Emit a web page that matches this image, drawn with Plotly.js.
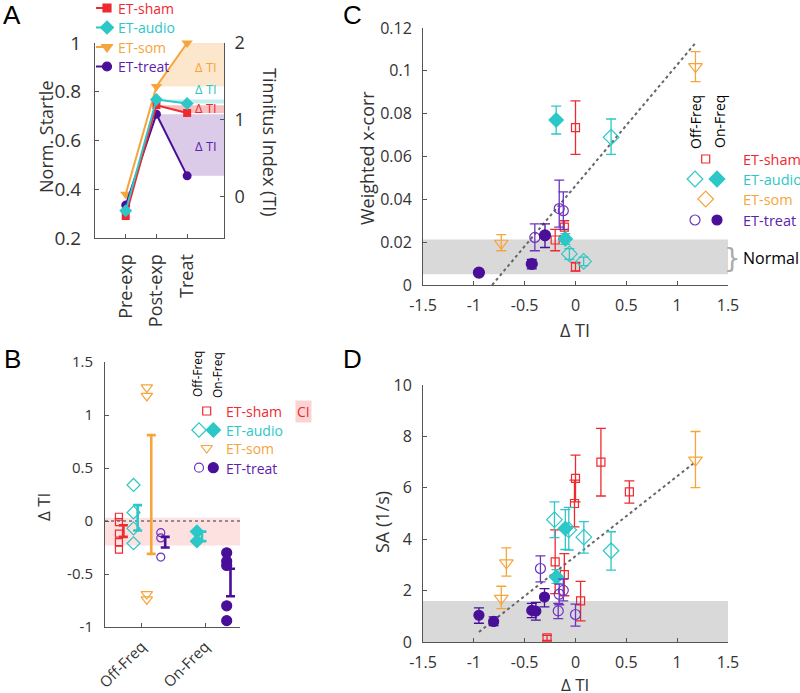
<!DOCTYPE html>
<html><head><meta charset="utf-8">
<script src="https://cdn.plot.ly/plotly-3.0.1.min.js"></script>
<style>html,body{margin:0;padding:0;background:#fff}#chart{width:800px;height:693px}</style>
</head><body><div id="chart"></div>
<script>
// ===== Panel A : normalised startle per stage =====
const stages = ['Pre-exp', 'Post-exp', 'Treat'];
const shamA  = [0.29, 0.745, 0.713];
const audioA = [0.312, 0.768, 0.752];
const somA   = [0.38, 0.822, 1.0];
const treatA = [0.335, 0.708, 0.455];
const tiTicks = [0, 1, 2];

// ===== Panel B : delta TI per animal =====
const groupsB = ['Off-Freq', 'On-Freq'];
const shamB     = [0.04, -0.01, -0.12, -0.2, -0.27];
const audioOffB = [0.34, 0.08, -0.07, -0.21];
const somB      = [1.26, 1.18, -0.69, -0.74];
const treatOffB = [-0.11, -0.16, -0.34];
const audioOnB  = [-0.1, -0.19];
const treatOnB  = [-0.3, -0.38, -0.42, -0.8, -0.94];
// error ranges [low, high]
const shamBarB     = [-0.15, -0.04];
const audioOffBarB = [-0.09, 0.15];
const somBarB      = [-0.31, 0.81];
const treatOffBarB = [-0.25, -0.15];
const audioOnBarB  = [-0.19, -0.1];
const treatOnBarB  = [-0.71, -0.45];
const ciB = [-0.23, 0.03];
const yTicksB = [-1, -0.5, 0, 0.5, 1, 1.5];
const yTickTextB = ['-1', '-0.5', '0', '0.5', '1', '1.5'];

// ===== Panel C : weighted x-corr vs delta TI =====
const shamCx  = [0.0, -0.2, -0.11, 0.0];
const shamCy  = [0.0735, 0.021, 0.027, 0.0085];
const shamChi = [0.086, 0.026, 0.030, 0.0105];
const shamClo = [0.061, 0.016, 0.023, 0.0065];
const audioOffCx  = [0.35, -0.06, 0.08];
const audioOffCy  = [0.069, 0.0145, 0.011];
const audioOffChi = [0.0775, 0.017, 0.013];
const audioOffClo = [0.061, 0.012, 0.009];
const audioOnCx  = [-0.19, -0.1];
const audioOnCy  = [0.077, 0.0215];
const audioOnChi = [0.0835, 0.024];
const audioOnClo = [0.0705, 0.019];
const somCx  = [1.18, -0.73];
const somCy  = [0.102, 0.0195];
const somChi = [0.109, 0.0235];
const somClo = [0.095, 0.016];
const treatOffCx  = [-0.4, -0.16, -0.12];
const treatOffCy  = [0.0222, 0.0357, 0.0347];
const treatOffChi = [0.0285, 0.049, 0.0435];
const treatOffClo = [0.016, 0.027, 0.026];
const treatOnCx  = [-0.95, -0.43, -0.3];
const treatOnCy  = [0.0058, 0.0098, 0.0232];
const treatOnChi = [0.0068, 0.012, 0.0285];
const treatOnClo = [0.0048, 0.0075, 0.0175];
const fitCx = [-0.82, 1.18];
const fitCy = [0.0, 0.113];
const normalC = [0.005, 0.0213];

// ===== Panel D : SA vs delta TI =====
const shamDx  = [0.0, -0.01, 0.25, 0.53, -0.2, -0.11, 0.05, -0.28];
const shamDy  = [6.37, 5.39, 7.0, 5.84, 3.12, 2.62, 1.6, 0.16];
const shamDhi = [7.27, 6.3, 8.31, 6.27, 4.36, 3.44, 2.36, 0.26];
const shamDlo = [5.45, 4.48, 5.68, 5.4, 1.88, 1.8, 0.82, 0.06];
const audioOffDx  = [-0.207, -0.066, 0.082, 0.35];
const audioOffDy  = [4.76, 4.36, 4.08, 3.55];
const audioOffDhi = [5.45, 5.24, 4.68, 4.29];
const audioOffDlo = [4.06, 3.58, 3.46, 2.8];
const audioOnDx  = [-0.1, -0.187];
const audioOnDy  = [4.42, 2.53];
const audioOnDhi = [5.15, 2.82];
const audioOnDlo = [3.6, 2.28];
const somDx  = [1.18, -0.68, -0.73];
const somDy  = [7.08, 3.08, 1.7];
const somDhi = [8.19, 3.66, 2.17];
const somDlo = [6.01, 2.56, 1.3];
const treatOffDx  = [-0.345, -0.12, -0.16, -0.17, 0.0];
const treatOffDy  = [2.86, 2.01, 1.86, 1.21, 1.07];
const treatOffDhi = [3.35, 2.45, 2.25, 1.5, 1.47];
const treatOffDlo = [2.34, 1.6, 1.45, 0.91, 0.62];
const treatOnDx  = [-0.95, -0.805, -0.43, -0.39, -0.305];
const treatOnDy  = [1.04, 0.8, 1.23, 1.2, 1.75];
const treatOnDhi = [1.33, 0.98, 1.5, 1.54, 2.08];
const treatOnDlo = [0.73, 0.64, 0.95, 0.85, 1.37];
const fitDx = [-0.95, 1.18];
const fitDy = [0.39, 7.01];
const normalD = [0, 1.6];
const xTicksCD = [-1.5, -1, -0.5, 0, 0.5, 1, 1.5];
const xTickTextCD = ['-1.5', '-1', '-0.5', '0', '0.5', '1', '1.5'];

// ===== styles =====
const RED = '#ee2a30', CYAN = '#2cc7c7', ORANGE = '#f6a53a', PURPLE = '#6d34c0', PURPLE_D = '#4a0f99', PURPLE_T = '#5d22ad';
const FONT = 'Open Sans, Noto Sans, sans-serif';
const A_XMAX = 4.2;
const posB = {sham: 0.64, shamBar: 0.71, audio: 0.87, audioBar: 0.935, som: 1.08, somBar: 1.15,
              treat: 1.30, treatBar: 1.37, audioOn: 1.87, audioOnBar: 1.95, treatOn: 2.34, treatOnBar: 2.40};

const traces = [];
const skip = {hoverinfo: 'skip', showlegend: false, cliponaxis: false};

// ---- A bands ----
function bandA(xs, ys, color) {
  traces.push(Object.assign({x: xs, y: ys, xaxis: 'x', yaxis: 'y', mode: 'lines', fill: 'toself',
    fillcolor: color, line: {width: 0}}, skip));
}
bandA([2, 3, A_XMAX, A_XMAX], [somA[1], somA[2], somA[2], somA[1]], '#fde7cc');
bandA([2, A_XMAX, A_XMAX, 3], [audioA[1], audioA[1], audioA[2], audioA[2]], '#c4efef');
bandA([2, A_XMAX, A_XMAX, 3], [shamA[1], shamA[1], shamA[2], shamA[2]], '#f7c1c1');
bandA([2, A_XMAX, A_XMAX, 3], [treatA[1], treatA[1], treatA[2], treatA[2]], '#dccbe8');
// right axis carrier
traces.push(Object.assign({x: [1], y: [0], xaxis: 'x', yaxis: 'y5', mode: 'markers', marker: {opacity: 0}}, skip));
function lineA(ys, color, symbol, size) {
  traces.push(Object.assign({x: [1, 2, 3], y: ys, xaxis: 'x', yaxis: 'y', mode: 'lines+markers',
    line: {color: color, width: 2}, marker: {color: color, symbol: symbol, size: size}}, skip));
}
lineA(somA, ORANGE, 'triangle-down', 10);
lineA(treatA, PURPLE_D, 'circle', 9);
lineA(shamA, RED, 'square', 8);
lineA(audioA, CYAN, 'diamond', 10);

// ---- B ----
function ptsB(vals, pos, color, symbol, size) {
  traces.push(Object.assign({x: vals.map(() => pos), y: vals, xaxis: 'x2', yaxis: 'y2', mode: 'markers',
    marker: {color: color, symbol: symbol, size: size, line: {color: color, width: 1.2}}}, skip));
}
function barB(range, pos, color) {
  traces.push(Object.assign({x: [pos], y: [(range[0] + range[1]) / 2], xaxis: 'x2', yaxis: 'y2', mode: 'markers',
    marker: {size: 1, opacity: 0, color: color},
    error_y: {type: 'data', symmetric: true, array: [(range[1] - range[0]) / 2], color: color, thickness: 2.6, width: 4.5}}, skip));
}
ptsB(shamB, posB.sham, RED, 'square-open', 7);
barB(shamBarB, posB.shamBar, RED);
ptsB(audioOffB, posB.audio, CYAN, 'diamond-open', 10);
barB(audioOffBarB, posB.audioBar, CYAN);
ptsB(somB, posB.som, ORANGE, 'triangle-down-open', 10);
barB(somBarB, posB.somBar, ORANGE);
ptsB(treatOffB, posB.treat, PURPLE, 'circle-open', 8);
barB(treatOffBarB, posB.treatBar, PURPLE_D);
ptsB(audioOnB, posB.audioOn, CYAN, 'diamond', 10);
barB(audioOnBarB, posB.audioOnBar, CYAN);
ptsB(treatOnB, posB.treatOn, PURPLE_D, 'circle', 10);
barB(treatOnBarB, posB.treatOnBar, PURPLE_D);

// ---- C & D ----
function pts(xa, ya, xs, ys, hi, lo, color, symbol, size) {
  traces.push(Object.assign({x: xs, y: ys, xaxis: xa, yaxis: ya, mode: 'markers',
    marker: {color: color, symbol: symbol, size: size, line: {color: color, width: 1.2}},
    error_y: {type: 'data', symmetric: false, array: hi.map((h, i) => h - ys[i]), arrayminus: lo.map((l, i) => ys[i] - l),
      color: color, thickness: 1.3, width: 5}}, skip));
}
function fit(xa, ya, xs, ys) {
  traces.push(Object.assign({x: xs, y: ys, xaxis: xa, yaxis: ya, mode: 'lines',
    line: {color: '#666', width: 2, dash: 'dot'}}, skip));
}
fit('x3', 'y3', fitCx, fitCy);
pts('x3', 'y3', shamCx, shamCy, shamChi, shamClo, RED, 'square-open', 8);
pts('x3', 'y3', audioOffCx, audioOffCy, audioOffChi, audioOffClo, CYAN, 'diamond-open', 12);
pts('x3', 'y3', audioOnCx, audioOnCy, audioOnChi, audioOnClo, CYAN, 'diamond', 11);
pts('x3', 'y3', somCx, somCy, somChi, somClo, ORANGE, 'triangle-down-open', 12);
pts('x3', 'y3', treatOffCx, treatOffCy, treatOffChi, treatOffClo, PURPLE, 'circle-open', 10);
pts('x3', 'y3', treatOnCx, treatOnCy, treatOnChi, treatOnClo, PURPLE_D, 'circle', 11);

fit('x4', 'y4', fitDx, fitDy);
pts('x4', 'y4', shamDx, shamDy, shamDhi, shamDlo, RED, 'square-open', 8);
pts('x4', 'y4', audioOffDx, audioOffDy, audioOffDhi, audioOffDlo, CYAN, 'diamond-open', 12);
pts('x4', 'y4', audioOnDx, audioOnDy, audioOnDhi, audioOnDlo, CYAN, 'diamond', 11);
pts('x4', 'y4', somDx, somDy, somDhi, somDlo, ORANGE, 'triangle-down-open', 12);
pts('x4', 'y4', treatOffDx, treatOffDy, treatOffDhi, treatOffDlo, PURPLE, 'circle-open', 10);
pts('x4', 'y4', treatOnDx, treatOnDy, treatOnDhi, treatOnDlo, PURPLE_D, 'circle', 10);

// ---- legend glyphs (pixel overlay) ----
function glyph(x, y, color, symbol, size) {
  traces.push(Object.assign({x: [x], y: [y], xaxis: 'x5', yaxis: 'y6', mode: 'markers',
    marker: {color: color, symbol: symbol, size: size, line: {color: color, width: 1.2}}}, skip));
}
function seg(x0, x1, y, color) {
  traces.push(Object.assign({x: [x0, x1], y: [y, y], xaxis: 'x5', yaxis: 'y6', mode: 'lines',
    line: {color: color, width: 2}}, skip));
}
const legA = [[8, RED, 'square', 8], [27.5, CYAN, 'diamond', 10], [47, ORANGE, 'triangle-down', 10], [66.5, PURPLE_D, 'circle', 9]];
legA.forEach(r => { seg(96, 111, r[0], r[1]); glyph(107, r[0], r[1], r[2], r[3]); });
// B legend
glyph(206.7, 411, RED, 'square-open', 8);
glyph(199, 430, CYAN, 'diamond-open', 11); glyph(213.3, 430, CYAN, 'diamond', 11);
glyph(206.7, 448, ORANGE, 'triangle-down-open', 10);
glyph(199, 467.7, PURPLE, 'circle-open', 9); glyph(213.3, 467.7, PURPLE_D, 'circle', 10);
// C legend
glyph(705.7, 159, RED, 'square-open', 8);
glyph(695, 179, CYAN, 'diamond-open', 12); glyph(717, 179, CYAN, 'diamond', 12);
glyph(705.7, 199, ORANGE, 'diamond-open', 12);
glyph(695, 220, PURPLE, 'circle-open', 10); glyph(717, 220, PURPLE_D, 'circle', 10);

// ---- axes ----
function ax(extra) {
  return Object.assign({showline: true, linecolor: '#555', linewidth: 1, ticks: 'inside', ticklen: 4, tickcolor: '#555',
    showgrid: false, zeroline: false, fixedrange: true, autorange: false,
    tickfont: {family: FONT, size: 16, color: '#333'}}, extra);
}
const dy = (top, bot) => [1 - bot / 693, 1 - top / 693];
const dx = (l, r) => [l / 800, r / 800];

function ann(text, x, y, o) {
  return Object.assign({text: text, x: x, y: y, xref: 'x5', yref: 'y6', showarrow: false,
    xanchor: 'center', yanchor: 'middle', font: {family: FONT, size: 16, color: '#333'}}, o || {});
}
const annotations = [
  ann('A', 12, 15, {font: {family: 'Arial, Liberation Sans', size: 26, color: '#000'}}),
  ann('B', 12, 359, {font: {family: 'Arial, Liberation Sans', size: 26, color: '#000'}}),
  ann('C', 352, 15, {font: {family: 'Arial, Liberation Sans', size: 26, color: '#000'}}),
  ann('D', 352, 359, {font: {family: 'Arial, Liberation Sans', size: 26, color: '#000'}}),
  ann('Norm. Startle', 46, 137, {textangle: -90, font: {family: FONT, size: 18, color: '#333'}}),
  ann('Tinnitus Index (TI)', 270, 142, {textangle: 90, font: {family: FONT, size: 18, color: '#333'}}),
  ann('ET-sham', 116, 8, {xanchor: 'left', font: {family: FONT, size: 14, color: RED}}),
  ann('ET-audio', 116, 27.5, {xanchor: 'left', font: {family: FONT, size: 14, color: CYAN}}),
  ann('ET-som', 116, 47, {xanchor: 'left', font: {family: FONT, size: 14, color: ORANGE}}),
  ann('ET-treat', 116, 66.5, {xanchor: 'left', font: {family: FONT, size: 14, color: PURPLE_T}}),
  ann('Δ TI', 206, 67, {font: {family: FONT, size: 13, color: ORANGE}}),
  ann('Δ TI', 206, 89, {font: {family: FONT, size: 13, color: CYAN}}),
  ann('Δ TI', 206, 108, {font: {family: FONT, size: 13, color: RED}}),
  ann('Δ TI', 206, 146, {font: {family: FONT, size: 13, color: PURPLE_T}}),
  // B
  ann('Δ TI', 43, 507, {textangle: -90, font: {family: FONT, size: 17, color: '#333'}}),
  ann('Off-Freq', 197, 374, {textangle: -90, font: {family: FONT, size: 12, color: '#000'}}),
  ann('On-Freq', 217, 375, {textangle: -90, font: {family: FONT, size: 12, color: '#000'}}),
  ann('ET-sham', 224, 411, {xanchor: 'left', font: {family: FONT, size: 14, color: RED}}),
  ann('ET-audio', 224, 430, {xanchor: 'left', font: {family: FONT, size: 14, color: CYAN}}),
  ann('ET-som', 224, 448, {xanchor: 'left', font: {family: FONT, size: 14, color: ORANGE}}),
  ann('ET-treat', 224, 468, {xanchor: 'left', font: {family: FONT, size: 14, color: PURPLE_T}}),
  ann('CI', 303, 411, {bgcolor: '#fbd3d3', borderpad: 1, font: {family: FONT, size: 14, color: RED}}),
  // C
  ann('Weighted x-corr', 367, 158, {textangle: -90, font: {family: FONT, size: 18, color: '#333'}}),
  ann('Δ TI', 575, 330, {font: {family: FONT, size: 18, color: '#333'}}),
  ann('Off-Freq', 695, 122, {textangle: -90, font: {family: FONT, size: 14, color: '#000'}}),
  ann('On-Freq', 719, 122, {textangle: -90, font: {family: FONT, size: 14, color: '#000'}}),
  ann('ET-sham', 741, 159, {xanchor: 'left', font: {family: FONT, size: 14.5, color: RED}}),
  ann('ET-audio', 741, 179, {xanchor: 'left', font: {family: FONT, size: 14.5, color: CYAN}}),
  ann('ET-som', 741, 199, {xanchor: 'left', font: {family: FONT, size: 14.5, color: ORANGE}}),
  ann('ET-treat', 741, 220, {xanchor: 'left', font: {family: FONT, size: 14.5, color: PURPLE_T}}),
  ann('Normal', 741, 258, {xanchor: 'left', font: {family: FONT, size: 16, color: '#000'}}),
  ann('}', 732, 258, {font: {family: 'DejaVu Sans', size: 26, color: '#aaa'}}),
  // D
  ann('SA (1/s)', 382, 522, {textangle: -90, font: {family: FONT, size: 18, color: '#333'}}),
  ann('Δ TI', 575, 684, {font: {family: FONT, size: 17, color: '#333'}})
];

const shapes = [
  {type: 'rect', xref: 'x2 domain', x0: 0, x1: 1, yref: 'y2', y0: ciB[0], y1: ciB[1], fillcolor: '#fde1e1', line: {width: 0}, layer: 'below'},
  {type: 'line', xref: 'x2 domain', x0: 0, x1: 1, yref: 'y2', y0: 0, y1: 0, line: {color: '#333', width: 1, dash: 'dot'}, layer: 'below'},
  {type: 'rect', xref: 'x3 domain', x0: 0, x1: 1, yref: 'y3', y0: normalC[0], y1: normalC[1], fillcolor: '#d9d9d9', line: {width: 0}, layer: 'below'},
  {type: 'rect', xref: 'x4 domain', x0: 0, x1: 1, yref: 'y4', y0: normalD[0], y1: normalD[1], fillcolor: '#d9d9d9', line: {width: 0}, layer: 'below'}
];

const layout = {
  width: 800, height: 693, margin: {l: 0, r: 0, t: 0, b: 0},
  paper_bgcolor: '#fff', plot_bgcolor: 'rgba(0,0,0,0)', showlegend: false,
  font: {family: FONT},
  xaxis: ax({domain: dx(95, 224), anchor: 'y', range: [0, A_XMAX], tickvals: [1, 2, 3], ticktext: stages, tickangle: -90,
    tickfont: {family: FONT, size: 18, color: '#333'}, ticklabelstandoff: 8}),
  yaxis: ax({domain: dy(43, 238), anchor: 'x', range: [0.2, 1.0], tick0: 0.2, dtick: 0.2,
    tickfont: {family: FONT, size: 19, color: '#333'}, ticklabelstandoff: 9}),
  yaxis5: ax({overlaying: 'y', side: 'right', anchor: 'x', range: [-0.537, 2], tickvals: tiTicks,
    tickfont: {family: FONT, size: 18, color: '#333'}, ticklabelstandoff: 6}),
  xaxis2: ax({domain: dx(105, 240), anchor: 'y2', range: [0.42, 2.55], tickvals: [1, 2], ticktext: groupsB, tickangle: -45,
    tickfont: {family: FONT, size: 15, color: '#333'}, ticklabelstandoff: 4}),
  yaxis2: ax({domain: dy(362, 627), anchor: 'x2', range: [-1, 1.5], tickvals: yTicksB, ticktext: yTickTextB,
    tickfont: {family: FONT, size: 15, color: '#333'}, ticklabelstandoff: 8}),
  xaxis3: ax({domain: dx(423, 728), anchor: 'y3', range: [-1.5, 1.5], tickvals: xTicksCD, ticktext: xTickTextCD, ticklabelstandoff: 6}),
  yaxis3: ax({domain: dy(28, 285), anchor: 'x3', range: [0, 0.12], dtick: 0.02, ticklabelstandoff: 7}),
  xaxis4: ax({domain: dx(423, 728), anchor: 'y4', range: [-1.5, 1.5], tickvals: xTicksCD, ticktext: xTickTextCD, ticklabelstandoff: 6}),
  yaxis4: ax({domain: dy(385, 642), anchor: 'x4', range: [0, 10], dtick: 2, ticklabelstandoff: 7}),
  xaxis5: {domain: [0, 1], range: [0, 800], visible: false, anchor: 'y6', fixedrange: true, autorange: false},
  yaxis6: {domain: [0, 1], range: [693, 0], visible: false, anchor: 'x5', fixedrange: true, autorange: false},
  annotations: annotations,
  shapes: shapes
};

Plotly.newPlot('chart', traces, layout, {displayModeBar: false, staticPlot: true});
</script>
</body></html>
